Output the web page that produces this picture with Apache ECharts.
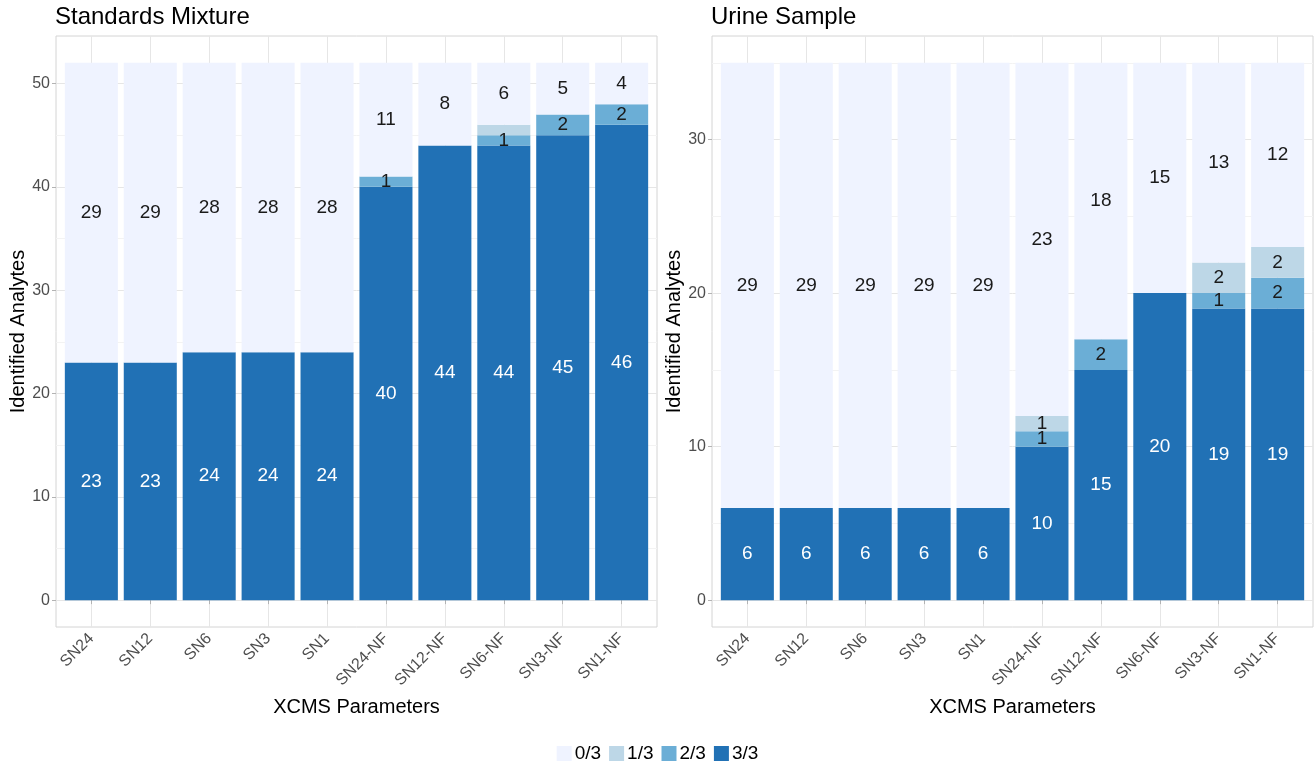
<!DOCTYPE html>
<html>
<head>
<meta charset="utf-8">
<title>Identified Analytes by XCMS Parameters</title>
<script src="https://cdn.jsdelivr.net/npm/echarts@6/dist/echarts.min.js"></script>
<style>
  html, body { margin: 0; padding: 0; background: #ffffff; }
  #chart { width: 1315px; height: 771px; }
</style>
</head>
<body>
<div id="chart"></div>
<script>
// ---- data ----
const categories = ['SN24', 'SN12', 'SN6', 'SN3', 'SN1', 'SN24-NF', 'SN12-NF', 'SN6-NF', 'SN3-NF', 'SN1-NF'];
const legendOrder = ['0/3', '1/3', '2/3', '3/3'];

// Standards Mixture: analytes identified in n of 3 replicates
const stdThree = [23, 23, 24, 24, 24, 40, 44, 44, 45, 46];
const stdTwo   = [0, 0, 0, 0, 0, 1, 0, 1, 2, 2];
const stdOne   = [0, 0, 0, 0, 0, 0, 0, 1, 0, 0];
const stdZero  = [29, 29, 28, 28, 28, 11, 8, 6, 5, 4];

// Urine Sample
const urineThree = [6, 6, 6, 6, 6, 10, 15, 20, 19, 19];
const urineTwo   = [0, 0, 0, 0, 0, 1, 2, 0, 1, 2];
const urineOne   = [0, 0, 0, 0, 0, 1, 0, 0, 2, 2];
const urineZero  = [29, 29, 29, 29, 29, 23, 18, 15, 13, 12];

const stdTicks = [0, 10, 20, 30, 40, 50];
const urineTicks = [0, 10, 20, 30];

// segment labels left out because they collide with the one below
const stdHiddenLabels = [{ level: '1/3', category: 'SN6-NF' }];
const urineHiddenLabels = [];

// ---- styling ----
const levelColors = { '0/3': '#eff3ff', '1/3': '#bdd7e7', '2/3': '#6baed6', '3/3': '#2171b5' };
const FONT = '"Liberation Sans", Arial, Helvetica, sans-serif';
const W = 1315, H = 771;
const PANEL_TOP = 36, PANEL_BOTTOM = 627;
const panelBoxes = [{ left: 56, right: 657 }, { left: 712, right: 1313 }];

const panels = [
  {
    title: 'Standards Mixture', ticks: stdTicks, hidden: stdHiddenLabels,
    levels: { '3/3': stdThree, '2/3': stdTwo, '1/3': stdOne, '0/3': stdZero },
    nameGap: 24
  },
  {
    title: 'Urine Sample', ticks: urineTicks, hidden: urineHiddenLabels,
    levels: { '3/3': urineThree, '2/3': urineTwo, '1/3': urineOne, '0/3': urineZero },
    nameGap: 28
  }
];

const grid = [], xAxis = [], yAxis = [], series = [], title = [];

panels.forEach(function (panel, p) {
  const box = panelBoxes[p];
  const width = box.right - box.left;
  // discrete axis padding of 0.6 category on each side
  const band = width / (categories.length + 0.2);
  const inset = band * 0.1;

  // stacked totals -> continuous axis padded by 5%
  const totals = categories.map(function (_, i) {
    return legendOrder.reduce(function (s, k) { return s + panel.levels[k][i]; }, 0);
  });
  const top = Math.max.apply(null, totals);
  const yMin = -0.05 * top, yMax = top * 1.05;

  const frameIdx = grid.length;
  grid.push({
    left: box.left, right: W - box.right, top: PANEL_TOP, bottom: H - PANEL_BOTTOM,
    show: true, backgroundColor: 'transparent', borderColor: '#d4d4d4', borderWidth: 1
  });
  const dataIdx = grid.length;
  grid.push({
    left: box.left + inset, right: W - box.right + inset, top: PANEL_TOP, bottom: H - PANEL_BOTTOM
  });

  // frame grid: horizontal grid lines and y labels
  xAxis.push({ gridIndex: frameIdx, type: 'value', min: 0, max: 1, show: false });
  yAxis.push({
    gridIndex: frameIdx, type: 'value', min: yMin, max: yMax,
    name: 'Identified Analytes', nameLocation: 'middle', nameGap: panel.nameGap,
    nameTextStyle: { fontSize: 20, color: '#000', fontFamily: FONT },
    axisLine: { show: false },
    axisTick: { show: true, length: 4, customValues: panel.ticks, lineStyle: { color: '#b3b3b3' } },
    axisLabel: { customValues: panel.ticks, fontSize: 16, color: '#4d4d4d', fontFamily: FONT, margin: 6 },
    splitLine: { show: true, lineStyle: { color: '#e6e6e6', width: 1 } },
    minorTick: { show: false, splitNumber: 2 },
    minorSplitLine: { show: true, lineStyle: { color: '#f3f3f3', width: 1 } }
  });

  // data grid: bars, category labels, vertical grid lines
  xAxis.push({
    gridIndex: dataIdx, type: 'category', data: categories,
    name: 'XCMS Parameters', nameLocation: 'middle', nameGap: 70,
    nameTextStyle: { fontSize: 20, color: '#000', fontFamily: FONT },
    axisLine: { show: false },
    axisTick: { show: true, alignWithLabel: true, interval: 0, length: 4, lineStyle: { color: '#b3b3b3' } },
    axisLabel: { interval: 0, rotate: 45, fontSize: 16, color: '#4d4d4d', fontFamily: FONT, margin: 9 },
    splitLine: { show: true, interval: 0, alignWithLabel: true, lineStyle: { color: '#e6e6e6', width: 1 } }
  });
  yAxis.push({ gridIndex: dataIdx, type: 'value', min: yMin, max: yMax, show: false });

  ['3/3', '2/3', '1/3', '0/3'].forEach(function (level) {
    const values = panel.levels[level];
    series.push({
      name: level,
      type: 'bar',
      stack: 'panel' + p,
      xAxisIndex: xAxis.length - 1,
      yAxisIndex: yAxis.length - 1,
      barWidth: '90%',
      itemStyle: { color: levelColors[level] },
      label: {
        show: true, position: 'inside', fontSize: 19, fontFamily: FONT,
        color: level === '3/3' ? '#ffffff' : '#1a1a1a'
      },
      data: values.map(function (v, i) {
        const hide = v === 0 || panel.hidden.some(function (h) {
          return h.level === level && h.category === categories[i];
        });
        return hide ? { value: v, label: { show: false } } : v;
      })
    });
  });

  title.push({
    text: panel.title, left: box.left - 1, top: 5, padding: 0,
    textStyle: { fontSize: 24, fontWeight: 'normal', color: '#000', fontFamily: FONT }
  });
});

const chart = echarts.init(document.getElementById('chart'), null, { renderer: 'canvas' });
chart.setOption({
  animation: false,
  backgroundColor: '#ffffff',
  title: title,
  grid: grid,
  xAxis: xAxis,
  yAxis: yAxis,
  series: series,
  legend: {
    data: legendOrder, bottom: 3, left: 'center', icon: 'rect',
    itemWidth: 15, itemHeight: 15, itemGap: 8, selectedMode: false,
    textStyle: { fontSize: 19, color: '#000', fontFamily: FONT, padding: [0, 0, 0, -2] }
  }
});
</script>
</body>
</html>
